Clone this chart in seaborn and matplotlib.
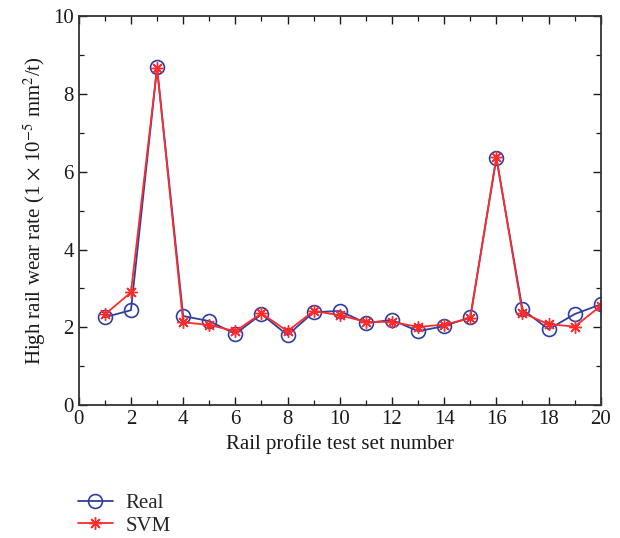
import numpy as np
import pandas as pd
import matplotlib
matplotlib.use("Agg")
import matplotlib.pyplot as plt
import seaborn as sns
from matplotlib.ticker import MultipleLocator

set_number = list(range(1, 21))
real_rate = [2.26, 2.44, 8.68, 2.29, 2.16, 1.83, 2.34, 1.80, 2.39, 2.42,
             2.11, 2.19, 1.90, 2.03, 2.26, 6.35, 2.46, 1.95, 2.34, 2.59]
svm_rate = [2.33, 2.90, 8.66, 2.13, 2.06, 1.90, 2.36, 1.90, 2.42, 2.31,
            2.14, 2.14, 2.01, 2.07, 2.23, 6.38, 2.37, 2.08, 2.02, 2.55]

df = pd.DataFrame({"set": set_number, "Real": real_rate, "SVM": svm_rate})

sns.set_style("ticks")
plt.rcParams["font.family"] = ["Liberation Serif", "DejaVu Serif"]
plt.rcParams["mathtext.fontset"] = "stix"

fig = plt.figure(figsize=(6.2, 5.38), dpi=100)
ax = fig.add_axes([0.127, 0.247, 0.842, 0.723])

sns.lineplot(data=df, x="set", y="Real", ax=ax, color="#2f3f9e", lw=1.3,
             marker="o", markersize=10, markerfacecolor="none",
             markeredgecolor="#2f3f9e", markeredgewidth=1.2, label="Real")
sns.lineplot(data=df, x="set", y="SVM", ax=ax, color="#ff2a2a", lw=1.3,
             marker=(8, 2, 0), markersize=9, markeredgecolor="#ff2a2a",
             markeredgewidth=1.0, label="SVM")

ax.set_xlim(0, 20)
ax.set_ylim(0, 10)
ax.xaxis.set_major_locator(MultipleLocator(2))
ax.xaxis.set_minor_locator(MultipleLocator(1))
ax.yaxis.set_major_locator(MultipleLocator(2))
ax.yaxis.set_minor_locator(MultipleLocator(1))
ax.tick_params(which="both", direction="in", top=True, right=True,
               labelsize=15, colors="#1a1a1a")
ax.tick_params(which="major", length=6, width=1.0)
ax.tick_params(which="minor", length=3.5, width=0.9)
for s in ax.spines.values():
    s.set_linewidth(1.3)
    s.set_color("#333333")

ax.set_xlabel("Rail profile test set number", fontsize=15, color="#1a1a1a")
ax.set_ylabel(r"High rail wear rate (1 $\times$ 10$^{-5}$ mm$^{2}$/t)",
              fontsize=15, color="#1a1a1a")

handles, labels = ax.get_legend_handles_labels()
ax.get_legend().remove()
fig.legend(handles, labels, loc="upper left", bbox_to_anchor=(0.095, 0.118),
           frameon=False, fontsize=15, handlelength=1.7, handletextpad=0.6,
           labelspacing=0.15)

fig.savefig("out.png", dpi=100)
